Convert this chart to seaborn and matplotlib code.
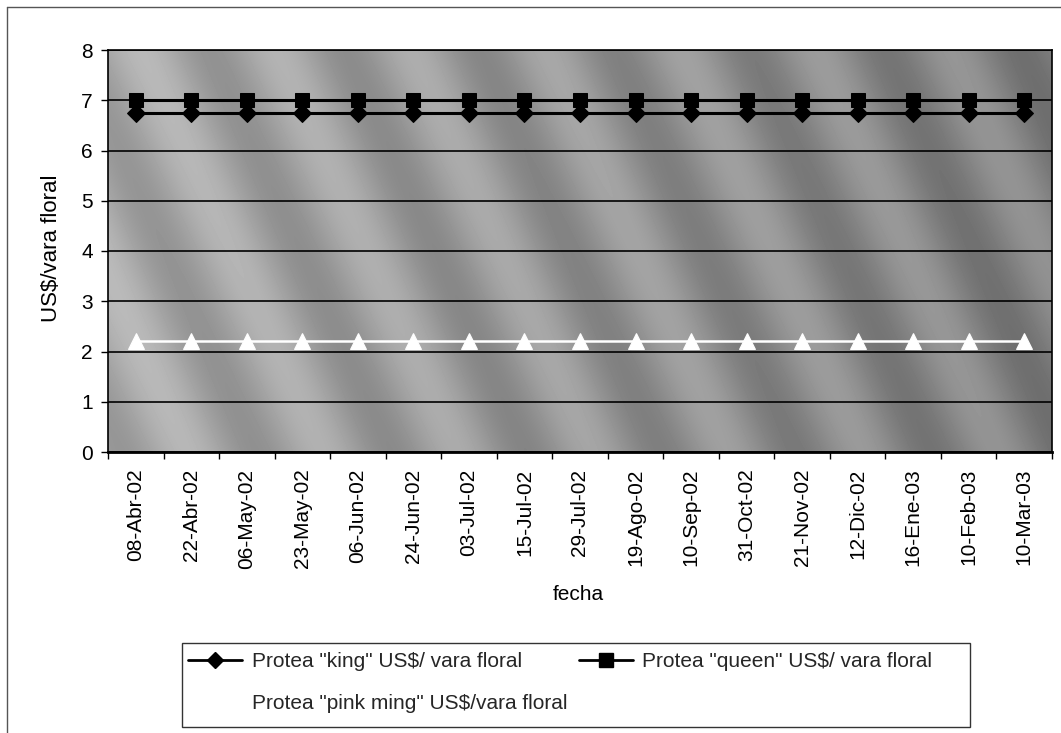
import numpy as np
import pandas as pd
import matplotlib
matplotlib.use("Agg")
import matplotlib.pyplot as plt
from matplotlib.lines import Line2D
from matplotlib.patches import Rectangle
import seaborn as sns

# ---- data -------------------------------------------------------------
fechas = ["08-Abr-02", "22-Abr-02", "06-May-02", "23-May-02", "06-Jun-02",
          "24-Jun-02", "03-Jul-02", "15-Jul-02", "29-Jul-02", "19-Ago-02",
          "10-Sep-02", "31-Oct-02", "21-Nov-02", "12-Dic-02", "16-Ene-03",
          "10-Feb-03", "10-Mar-03"]

precio_king = [6.75, 6.75, 6.75, 6.75, 6.75, 6.75, 6.75, 6.75, 6.75,
               6.75, 6.75, 6.75, 6.75, 6.75, 6.75, 6.75, 6.75]
precio_queen = [7.0, 7.0, 7.0, 7.0, 7.0, 7.0, 7.0, 7.0, 7.0,
                7.0, 7.0, 7.0, 7.0, 7.0, 7.0, 7.0, 7.0]
precio_pink = [2.2, 2.2, 2.2, 2.2, 2.2, 2.2, 2.2, 2.2, 2.2,
               2.2, 2.2, 2.2, 2.2, 2.2, 2.2, 2.2, 2.2]

s_king = 'Protea "king" US$/ vara floral'
s_queen = 'Protea "queen" US$/ vara floral'
s_pink = 'Protea "pink ming" US$/vara floral'

y_ticks = [0, 1, 2, 3, 4, 5, 6, 7, 8]

df = pd.concat([
    pd.DataFrame({"fecha": fechas, "valor": precio_king, "serie": s_king}),
    pd.DataFrame({"fecha": fechas, "valor": precio_pink, "serie": s_pink}),
    pd.DataFrame({"fecha": fechas, "valor": precio_queen, "serie": s_queen}),
], ignore_index=True)

# ---- style ------------------------------------------------------------
sns.set_theme(style="white")
plt.rcParams["font.family"] = ["Liberation Sans", "DejaVu Sans"]
FS = 15

W, H = 1061, 733
fig = plt.figure(figsize=(W / 100, H / 100), dpi=100)
fig.patch.set_facecolor("white")

ax_l, ax_r, ax_t, ax_b = 108, 1052, 50, 452
ax = fig.add_axes([ax_l / W, 1 - ax_b / H, (ax_r - ax_l) / W, (ax_b - ax_t) / H])

# textured grey plot-area fill (lighter on the left, darker to the right,
# with soft diagonal bands)
tw, th = 944, 402
xs, ys = np.meshgrid(np.arange(tw), np.arange(th))
fase = (xs - 0.45 * ys) / 135.0
fondo = 0.66 - 0.16 * (xs / tw) + 0.07 * np.sin(2 * np.pi * fase)
ax.imshow(fondo, cmap="gray", vmin=0, vmax=1, aspect="auto",
          extent=(-0.5, len(fechas) - 0.5, 0, 8), zorder=0,
          interpolation="bilinear")

palette = {s_king: "black", s_queen: "black", s_pink: "white"}
markers = {s_king: "D", s_queen: "s", s_pink: "^"}
sns.lineplot(data=df, x="fecha", y="valor", hue="serie", style="serie",
             palette=palette, markers=markers, dashes=False, sort=False,
             linewidth=2.2, legend=False, ax=ax, zorder=3)

msize = {s_king: 9, s_queen: 10.5, s_pink: 11}
for line, serie in zip(ax.lines, [s_king, s_pink, s_queen]):
    c = line.get_color()
    line.set_markeredgecolor(c)
    line.set_markerfacecolor(c)
    line.set_markersize(msize[serie])
    if serie == s_pink:
        line.set_linewidth(1.8)

# ---- axes -------------------------------------------------------------
ax.set_xlim(-0.5, len(fechas) - 0.5)
ax.set_ylim(0, 8)
ax.set_yticks(y_ticks)
ax.set_yticklabels([str(v) for v in y_ticks], fontsize=FS)
ax.set_xticks(range(len(fechas)))
ax.set_xticklabels(fechas, rotation=90, fontsize=FS)
ax.set_xticks(np.arange(-0.5, len(fechas), 1), minor=True)
ax.tick_params(axis="x", which="major", length=0, pad=12, colors="black")
ax.tick_params(axis="x", which="minor", length=5, width=1, direction="out",
               color="black", bottom=True)
ax.tick_params(axis="y", which="major", length=5, width=1, direction="out",
               pad=6, color="black", left=True, labelcolor="black")
ax.grid(False)
ax.yaxis.grid(True, color="black", linewidth=1.2, zorder=1)
ax.set_axisbelow(False)
for s in ax.spines.values():
    s.set_color("black")
    s.set_linewidth(1.2)
ax.spines["bottom"].set_linewidth(2)
ax.set_xlabel("")
ax.set_ylabel("")

fig.text(52 / W, 1 - 248 / H, "US$/vara floral", rotation=90, fontsize=16,
         ha="center", va="center", color="black")
fig.text(578 / W, 1 - 595 / H, "fecha", fontsize=FS,
         ha="center", va="center", color="black")

# ---- legend -----------------------------------------------------------
handles = [
    Line2D([], [], color="black", lw=2, marker="D", markersize=8),
    Line2D([], [], color="white", lw=2, marker="^", markersize=10.5,
           markeredgecolor="white"),
    Line2D([], [], color="black", lw=2, marker="s", markersize=9.5),
]
labels = [s_king, s_pink, s_queen]
fig.legend(handles, labels, ncol=2, loc="upper left",
           bbox_to_anchor=(188 / W, 1 - 652 / H), frameon=False,
           fontsize=FS, handlelength=2.6, handletextpad=0.45,
           columnspacing=0.55, labelspacing=1.1, borderpad=0,
           borderaxespad=0)
fig.patches.append(Rectangle((182 / W, 1 - 727 / H), (970 - 182) / W,
                             (727 - 643) / H, transform=fig.transFigure,
                             fill=False, edgecolor="#333333", lw=1))

# outer chart border (left and top)
fig.add_artist(Line2D([7 / W, 7 / W], [0, 1 - 7 / H], transform=fig.transFigure,
                      color="#555555", lw=1))
fig.add_artist(Line2D([7 / W, 1], [1 - 7 / H, 1 - 7 / H],
                      transform=fig.transFigure, color="#555555", lw=1))

fig.savefig("out.png", dpi=100)
